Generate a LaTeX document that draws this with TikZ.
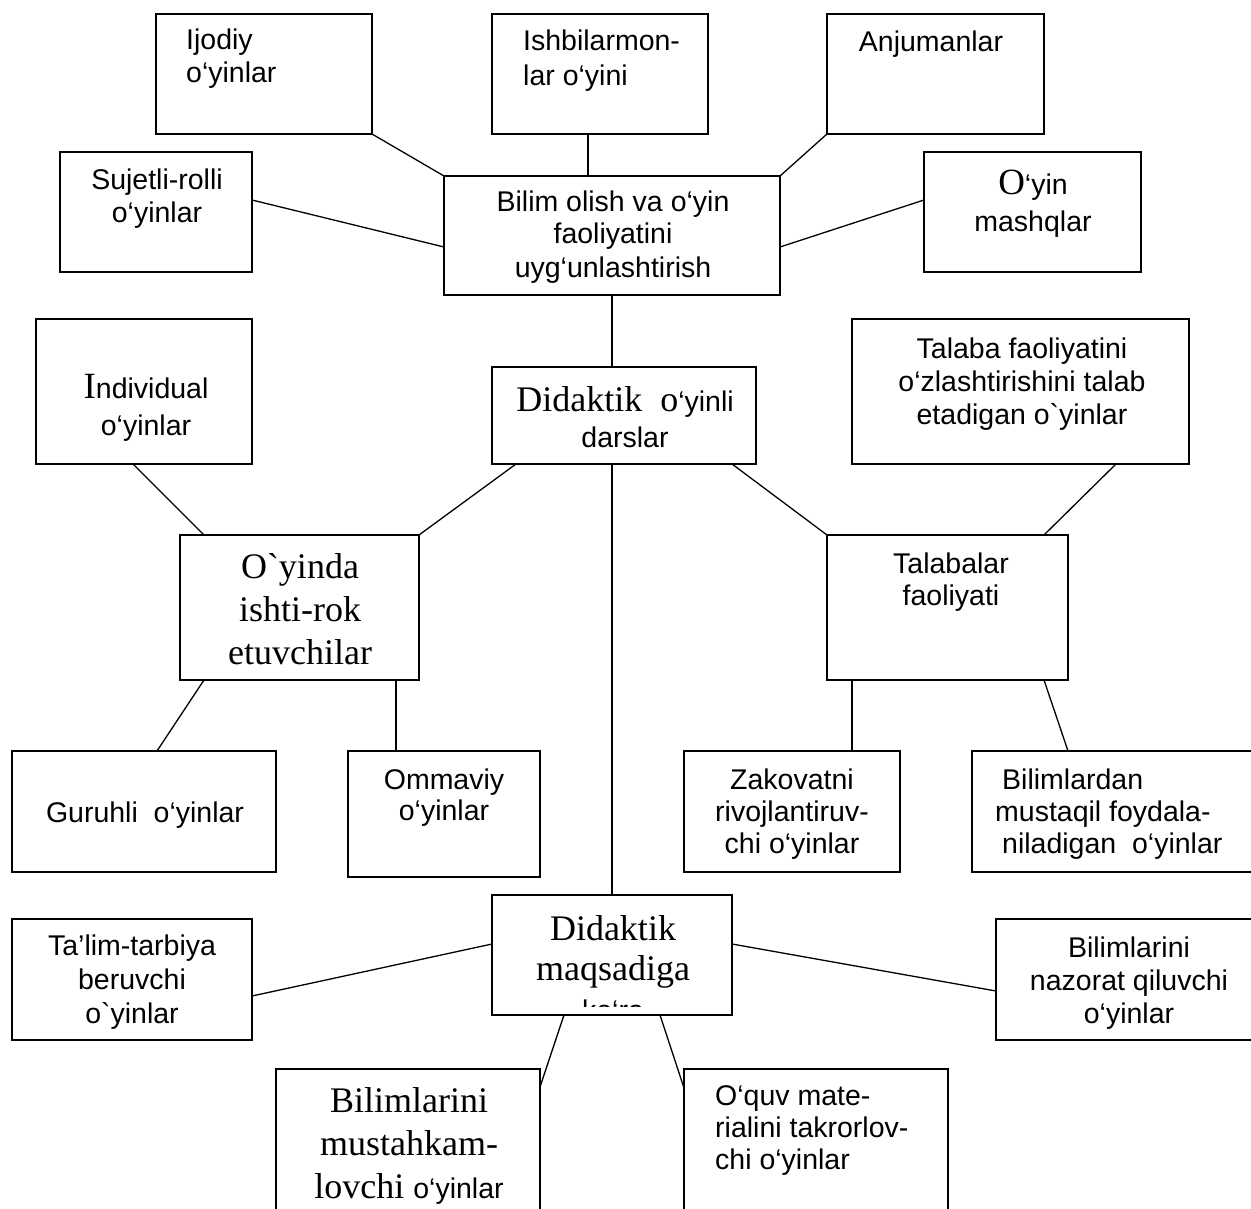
\documentclass[tikz,border=0pt]{standalone}
\usepackage{fontspec}
\usetikzlibrary{calc}
\newfontfamily\sa{Liberation Sans}
\newfontfamily\se{Liberation Serif}
\newcommand\mybox[5]{\node[boxst, anchor=north west, minimum width=#4pt-#2pt, minimum height=#5pt-#3pt] (#1) at (#2,#3) {};}
\tikzset{
  boxst/.style={draw, line width=1.3pt, inner sep=0pt, outer sep=0pt},
  conn/.style={line width=1.3pt},
  txt/.style={inner sep=0pt, align=center, anchor=base, font=\sa\fontsize{28.5}{33}\selectfont},
  txtl/.style={inner sep=0pt, align=left, anchor=base west, font=\sa\fontsize{28.5}{33}\selectfont},
  sertxt/.style={inner sep=0pt, align=center, anchor=base, font=\se\fontsize{36}{43}\selectfont}
}
\begin{document}
\begin{tikzpicture}[x=1pt,y=-1pt]
\useasboundingbox (0,0) rectangle (1251,1209);
\clip (0,0) rectangle (1251,1209);
% boxes
\mybox{ijod}{156}{14}{372}{134}
\mybox{ishb}{492}{14}{708}{134}
\mybox{anju}{827}{14}{1044}{134}
\mybox{suje}{60}{152}{252}{272}
\mybox{bili}{444}{176}{780}{295}
\mybox{mash}{924}{152}{1141}{272}
\mybox{indi}{36}{319}{252}{464}
\mybox{dida}{492}{367}{756}{464}
\mybox{tala}{852}{319}{1189}{464}
\mybox{oyin}{180}{535}{419}{680}
\mybox{tfao}{827}{535}{1068}{680}
\mybox{guru}{12}{751}{276}{872}
\mybox{omma}{348}{751}{540}{877}
\mybox{zako}{684}{751}{900}{872}
\mybox{bfoy}{972}{751}{1262}{872}
\mybox{talim}{12}{919}{252}{1040}
\mybox{dmaq}{492}{895}{732}{1015}
\mybox{bnaz}{996}{919}{1262}{1040}
\mybox{must}{276}{1069}{540}{1232}
\mybox{oquv}{684}{1069}{948}{1232}
% texts (anchor = baseline of the last line)
\node[txtl, font=\sa\fontsize{28.5}{33}\selectfont] (t-ijod) at (186,83) {Ijodiy\\o‘yinlar};
\node[txtl, font=\sa\fontsize{28.5}{35}\selectfont] (t-ishb) at (523,86) {Ishbilarmon-\\lar o‘yini};
\node[txt] (t-anju) at (931,52) {Anjumanlar};
\node[txt] (t-suje) at (157,223) {Sujetli-rolli\\o‘yinlar};
\node[txt] (t-bili) at (613,277) {Bilim olish va o‘yin\\faoliyatini\\uyg‘unlashtirish};
\node[txt, font=\sa\fontsize{28.5}{37}\selectfont] (t-mash) at (1033,232) {{\se\fontsize{37}{37}\selectfont O}‘yin\\mashqlar};
\node[txt, font=\sa\fontsize{28.5}{37}\selectfont] (t-indi) at (146,435) {{\se\fontsize{37}{37}\selectfont I}ndividual\\o‘yinlar};
\node[txt, font=\sa\fontsize{28.5}{36}\selectfont] (t-dida) at (625,447) {{\se\fontsize{36}{36}\selectfont Didaktik\ \ o}‘yinli\\darslar};
\node[txt] (t-tala) at (1022,424) {Talaba faoliyatini\\o‘zlashtirishini talab\\etadigan o`yinlar};
\node[sertxt] (t-oyin) at (300,664) {O`yinda\\ishti-rok\\etuvchilar};
\node[txt, font=\sa\fontsize{28.5}{32}\selectfont] (t-tfao) at (951,605) {Talabalar\\faoliyati};
\node[txt] (t-guru) at (145,822) {Guruhli\ \ o‘yinlar};
\node[txt, font=\sa\fontsize{28.5}{31}\selectfont] (t-omma) at (444,820) {Ommaviy\\o‘yinlar};
\node[txt, font=\sa\fontsize{28.5}{32}\selectfont] (t-zako) at (792,853) {Zakovatni\\rivojlantiruv-\\chi o‘yinlar};
\node[txtl, font=\sa\fontsize{28.5}{32}\selectfont] (t-bfoy) at (995,853) {\hspace{7pt}Bilimlardan\\mustaqil foydala-\\\hspace{7pt}niladigan\ \ o‘yinlar};
\node[txt, font=\sa\fontsize{28.5}{34}\selectfont] (t-talim) at (132,1023) {Ta’lim-tarbiya\\beruvchi\\o`yinlar};
\begin{scope}
\clip (494,897) rectangle (730,1006);
\node[txt, font=\se\fontsize{36}{40}\selectfont] (t-dmaq) at (613,1020) {Didaktik\\maqsadiga\\{\sa\fontsize{28.5}{33}\selectfont ko‘ra}};
\end{scope}
\node[txt, font=\sa\fontsize{28.5}{33}\selectfont] (t-bnaz) at (1129,1023) {Bilimlarini\\nazorat qiluvchi\\o‘yinlar};
\node[sertxt] (t-must) at (409,1198) {Bilimlarini\\mustahkam-\\lovchi {\sa\fontsize{28.5}{33}\selectfont o‘yinlar}};
\node[txtl, font=\sa\fontsize{28.5}{32}\selectfont] (t-oquv) at (715,1169) {O‘quv mate-\\rialini takrorlov-\\chi o‘yinlar};
% connectors
\draw[conn] (ijod.south east) -- (bili.north west);
\draw[conn] ($(ishb.south west)+(96,0)$) -- ($(bili.north west)+(144,0)$);
\draw[conn] (anju.south west) -- (bili.north east);
\draw[conn] ($(suje.north east)+(0,48)$) -- ($(bili.north west)+(0,71)$);
\draw[conn] ($(bili.north east)+(0,71)$) -- ($(mash.north west)+(0,48)$);
\draw[conn] (bili.south) -- ($(dida.north west)+(120,0)$);
\draw[conn] ($(dida.south west)+(24,0)$) -- (oyin.north east);
\draw[conn] ($(dida.south west)+(120,0)$) -- (dmaq.north);
\draw[conn] ($(dida.south east)+(-24,0)$) -- (tfao.north west);
\draw[conn] ($(indi.south west)+(97,0)$) -- ($(oyin.north west)+(24,0)$);
\draw[conn] ($(tala.south west)+(264,0)$) -- ($(tfao.north east)+(-24,0)$);
\draw[conn] ($(oyin.south west)+(24,0)$) -- ($(guru.north west)+(145,0)$);
\draw[conn] ($(oyin.south east)+(-23,0)$) -- ($(omma.north west)+(48,0)$);
\draw[conn] ($(tfao.south west)+(25,0)$) -- ($(zako.north east)+(-48,0)$);
\draw[conn] ($(tfao.south east)+(-24,0)$) -- ($(bfoy.north west)+(96,0)$);
\draw[conn] ($(talim.north east)+(0,77)$) -- ($(dmaq.north west)+(0,49)$);
\draw[conn] ($(dmaq.north east)+(0,49)$) -- ($(bnaz.north west)+(0,72)$);
\draw[conn] ($(dmaq.south west)+(72,0)$) -- ($(must.north east)+(0,18)$);
\draw[conn] ($(dmaq.south east)+(-72,0)$) -- ($(oquv.north west)+(0,19)$);
\end{tikzpicture}
\end{document}
